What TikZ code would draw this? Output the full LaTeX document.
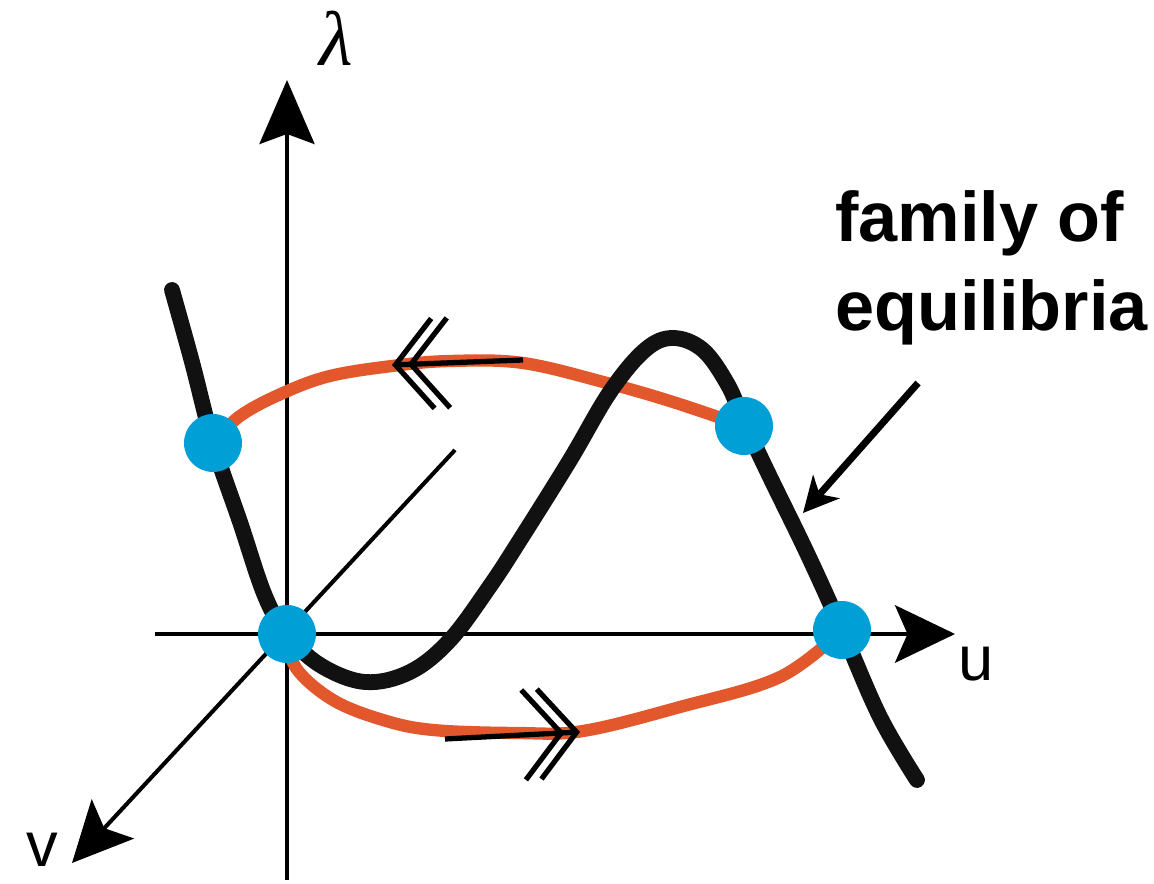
\documentclass[tikz,border=0pt]{standalone}
\usepackage{fontspec}
\setmainfont{Liberation Sans}
\newfontfamily\lamfont{Liberation Serif}
\usetikzlibrary{arrows.meta}
\definecolor{eqorange}{RGB}{226,88,44}
\definecolor{eqblue}{RGB}{0,160,214}
\definecolor{curveblack}{RGB}{17,17,17}
\begin{document}
\begin{tikzpicture}[x=0.02cm,y=-0.02cm,
  axis/.style={line width=2.3pt, draw=black},
  axtip/.style={-{Stealth[length=1.2cm,width=1.15cm,inset=0.25cm]}},
  lamtip/.style={-{Stealth[length=1.28cm,width=1.1cm,inset=0.2cm]}},
  branch/.style={line width=9pt, draw=curveblack, line cap=round, line join=round},
  orbit/.style={line width=7pt, draw=eqorange, line cap=round},
  flow/.style={line width=3pt, draw=black, -{Straight Barb[length=0.75cm,width=1.8cm,sep=-0.56cm] Straight Barb[length=0.75cm,width=1.8cm]}},
  eqdot/.style={circle, fill=eqblue, minimum size=1.16cm, inner sep=0pt},
  axlabel/.style={inner sep=0pt, font=\fontsize{36}{40}\selectfont},
  anno/.style={inner sep=0pt, anchor=base west, font=\fontsize{40}{48}\selectfont\bfseries},
  annarrow/.style={line width=4pt, draw=black, -{Stealth[length=0.7cm,width=0.7cm,inset=0.2cm]}}
]
\useasboundingbox (0,0) rectangle (1154,884);
% key points
\coordinate (O) at (287,634);
\coordinate (E1) at (213,443);
\coordinate (E3) at (744,426);
\coordinate (E4) at (842,630);
\coordinate (lamTop) at (287,80);
\coordinate (lamBot) at (287,880);
\coordinate (uLeft) at (155,634);
\coordinate (uRight) at (955,634);
\coordinate (vBack) at (455,450);
\coordinate (vFront) at (72,863);
% axes
\draw[axis,lamtip] (lamBot) -- (lamTop);
\draw[axis,axtip] (uLeft) -- (uRight);
\draw[axis,axtip] (vBack) -- (vFront);
\node[axlabel, font=\fontsize{44}{48}\selectfont\lamfont\itshape] (lamlab) at (336,38) {λ};
\node[axlabel] (ulab) at (976,664) {u};
\node[axlabel] (vlab) at (42,850) {v};
% orbits
\draw[orbit] plot[smooth, tension=0.6] coordinates {(E1) (240,416) (283,393) (330,376) (392,366) (450,361) (523,363) (607,383) (673,402) (E3)};
\draw[orbit] plot[smooth, tension=0.6] coordinates {(O) (296,668) (333,700) (383,720) (433,730) (517,733) (583,731) (680,707) (780,677) (E4)};
% family of equilibria
\draw[branch] plot[smooth, tension=0.6] coordinates {(172,290) (192,362) (E1) (240,522) (265,596) (O) (320,665) (365,682) (410,672) (450,640) (490,586) (520,540) (570,460) (610,392) (645,350) (673,338) (703,350) (728,385) (744,422) (770,477) (807,553) (E4) (880,717) (917,780)};
% flow arrows
\coordinate (f1s) at (523,360);
\coordinate (f1e) at (392,365);
\coordinate (f2s) at (445,739);
\coordinate (f2e) at (580,732);
\draw[flow] (f1s) -- (f1e);
\draw[flow] (f2s) -- (f2e);
% equilibria dots
\node[eqdot] (dot1) at (E1) {};
\node[eqdot] (dot2) at (O) {};
\node[eqdot] (dot3) at (E3) {};
\node[eqdot] (dot4) at (E4) {};
% annotation
\node[anno] (ann1) at (835,242) {family of};
\node[anno] (ann2) at (835,331) {equilibria};
\coordinate (annTail) at (918,383);
\coordinate (annTip) at (803,513);
\draw[annarrow] (annTail) -- (annTip);
\end{tikzpicture}
\end{document}
